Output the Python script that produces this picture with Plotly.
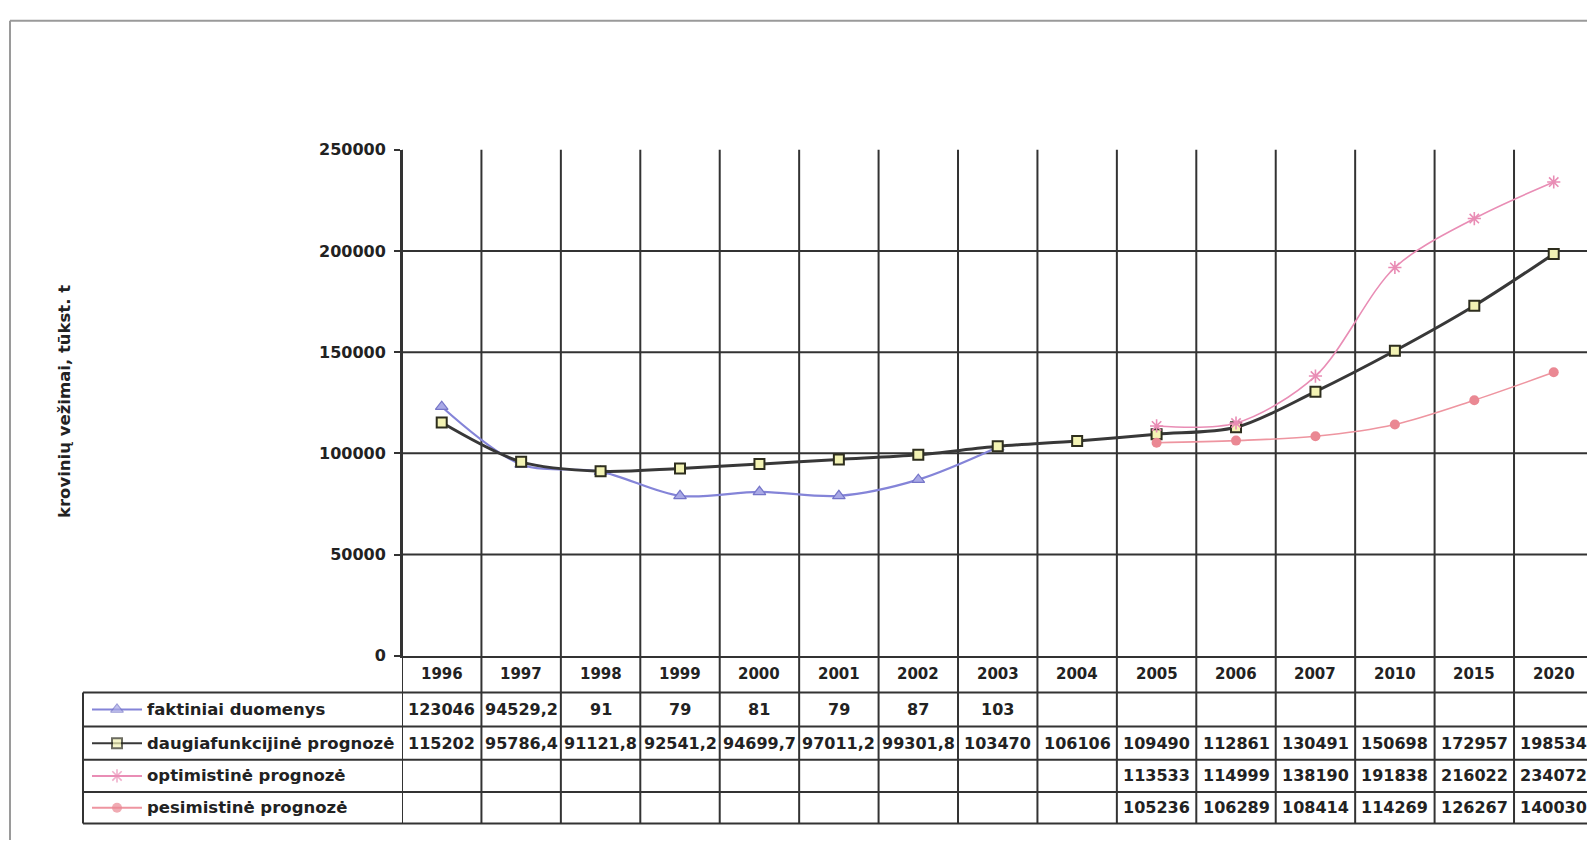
import plotly.graph_objects as go

# Categories (years) and series values, thousand tonnes
years = ["1996", "1997", "1998", "1999", "2000", "2001", "2002", "2003",
         "2004", "2005", "2006", "2007", "2010", "2015", "2020"]

fakt_values = [123046, 94529.2, 91000, 79000, 81000, 79000, 87000, 103000]
fakt_labels = ["123046", "94529,2", "91", "79", "81", "79", "87", "103"]

multi_values = [115202, 95786.4, 91121.8, 92541.2, 94699.7, 97011.2, 99301.8,
                103470, 106106, 109490, 112861, 130491, 150698, 172957, 198534]

forecast_years = ["2005", "2006", "2007", "2010", "2015", "2020"]
opt_values = [113533, 114999, 138190, 191838, 216022, 234072]
pes_values = [105236, 106289, 108414, 114269, 126267, 140030]

y_ticks = [0, 50000, 100000, 150000, 200000, 250000]

series_names = ["faktiniai duomenys", "daugiafunkcijinė prognozė",
                "optimistinė prognozė", "pesimistinė prognozė"]

# Page geometry (pixels)
W, H = 1587, 850
AXIS_LEFT = 402
PLOT_TOP = 144
AXIS_BOTTOM = 661.5
CAT_W = 79.43
TABLE_LEFT = 83
ROW_LINES = [699, 734, 768, 801, 833]
KEY_X0, KEY_X1, KEY_TEXT = 92, 142, 145

GRID = "#333333"
TEXT = "#222222"
FONT = "DejaVu Sans"

# Series styles: line, marker
styles = [
    dict(line=dict(color="#8484d8", width=2.2),
         marker=dict(symbol="triangle-up", size=11, color="#a9a9e6",
                     line=dict(color="#7575c8", width=1.2))),
    dict(line=dict(color="#383838", width=3),
         marker=dict(symbol="square", size=10, color="#f3f3b4",
                     line=dict(color="#2e2e1e", width=2))),
    dict(line=dict(color="#e98db5", width=1.6),
         marker=dict(symbol="asterisk-open", size=11,
                     line=dict(color="#de7fa8", width=1.6))),
    dict(line=dict(color="#ee95a0", width=1.6),
         marker=dict(symbol="circle", size=10, color="#ea8893",
                     line=dict(width=0))),
]


def px_x(x):
    return x / W


def px_y(y):
    return 1 - y / H


def fmt(v):
    s = f"{v:.1f}".rstrip("0").rstrip(".")
    return s.replace(".", ",")


series = [
    (years[:len(fakt_values)], fakt_values),
    (years, multi_values),
    (forecast_years, opt_values),
    (forecast_years, pes_values),
]

fig = go.Figure()

for (xs, ys), name, st in zip(series, series_names, styles):
    fig.add_trace(go.Scatter(
        x=xs, y=ys, name=name, mode="lines+markers", showlegend=False,
        line=dict(shape="spline", smoothing=0.9, **st["line"]),
        marker=st["marker"],
    ))

# Legend keys drawn inside the data table's label column (pixel overlay axes)
for r, (name, st) in enumerate(zip(series_names, styles)):
    yc = (ROW_LINES[r] + ROW_LINES[r + 1]) / 2
    mk = dict(st["marker"])
    mk["size"] = [0, st["marker"]["size"], 0]
    fig.add_trace(go.Scatter(
        x=[KEY_X0, (KEY_X0 + KEY_X1) / 2, KEY_X1], y=[yc, yc, yc],
        xaxis="x2", yaxis="y2", mode="lines+markers", showlegend=False,
        hoverinfo="skip", line=dict(color=st["line"]["color"], width=2),
        marker=mk,
    ))

shapes = []
line_style = dict(color=GRID, width=2)

# Column boundaries: through the plot and down through the data table
for i in range(len(years)):
    shapes.append(dict(type="line", xref="x", yref="paper",
                       x0=i - 0.5, x1=i - 0.5,
                       y0=px_y(PLOT_TOP), y1=px_y(ROW_LINES[-1]),
                       line=line_style, layer="below"))

# Horizontal value gridlines
for v in y_ticks[1:-1]:
    shapes.append(dict(type="line", xref="paper", yref="y",
                       x0=px_x(AXIS_LEFT), x1=1, y0=v, y1=v,
                       line=line_style, layer="below"))

# Data table rows
for yy in ROW_LINES:
    shapes.append(dict(type="line", xref="paper", yref="paper",
                       x0=px_x(TABLE_LEFT), x1=1,
                       y0=px_y(yy), y1=px_y(yy), line=line_style))
shapes.append(dict(type="line", xref="paper", yref="paper",
                   x0=px_x(TABLE_LEFT), x1=px_x(TABLE_LEFT),
                   y0=px_y(ROW_LINES[0]), y1=px_y(ROW_LINES[-1]),
                   line=line_style))

# Outer chart frame
frame = dict(color="#9a9a9a", width=2)
shapes.append(dict(type="line", xref="paper", yref="paper",
                   x0=px_x(10), x1=1, y0=px_y(12), y1=px_y(12), line=frame))
shapes.append(dict(type="line", xref="paper", yref="paper",
                   x0=px_x(10), x1=px_x(10), y0=px_y(12), y1=0, line=frame))

annotations = []

# Category labels in the table header
header_y = px_y((AXIS_BOTTOM + ROW_LINES[0]) / 2)
for i, yr in enumerate(years):
    annotations.append(dict(x=i, xref="x", y=header_y, yref="paper",
                            xanchor="center", yanchor="middle",
                            text=yr, showarrow=False,
                            font=dict(size=15, color=TEXT)))

# Table values
rows = [
    (years[:len(fakt_labels)], fakt_labels),
    (years, [fmt(v) for v in multi_values]),
    (forecast_years, [fmt(v) for v in opt_values]),
    (forecast_years, [fmt(v) for v in pes_values]),
]
for r, (xs, labels) in enumerate(rows):
    yc = px_y((ROW_LINES[r] + ROW_LINES[r + 1]) / 2)
    for x, t in zip(xs, labels):
        annotations.append(dict(x=years.index(x), xref="x", y=yc,
                                yref="paper", xanchor="center",
                                yanchor="middle", text=t, showarrow=False,
                                font=dict(size=16, color=TEXT)))

# Series names in the table's label column
for r, name in enumerate(series_names):
    yc = px_y((ROW_LINES[r] + ROW_LINES[r + 1]) / 2)
    annotations.append(dict(x=px_x(KEY_TEXT), y=yc, xref="paper",
                            yref="paper", xanchor="left", yanchor="middle",
                            text=name, showarrow=False,
                            font=dict(size=16.5, color=TEXT)))

# Value axis title
annotations.append(dict(x=px_x(64), y=px_y(402), xref="paper", yref="paper",
                        xanchor="center", yanchor="middle",
                        text="krovinių vežimai, tūkst. t", textangle=-90,
                        showarrow=False, font=dict(size=16.5, color=TEXT)))

fig.update_layout(
    width=W, height=H, autosize=False,
    margin=dict(l=0, r=0, t=0, b=0, pad=0),
    paper_bgcolor="white", plot_bgcolor="rgba(0,0,0,0)",
    font=dict(family=FONT, size=15, color=TEXT, weight="bold"),
    shapes=shapes, annotations=annotations,
    showlegend=False,
    xaxis=dict(domain=[px_x(AXIS_LEFT), 1], type="category",
               categoryorder="array", categoryarray=years,
               range=[-0.5, -0.5 + (W - AXIS_LEFT) / CAT_W],
               showgrid=False, zeroline=False, showticklabels=False,
               ticks="", showline=True, linecolor=GRID, linewidth=2),
    yaxis=dict(domain=[px_y(AXIS_BOTTOM), px_y(PLOT_TOP)],
               range=[0, 250000], tickvals=y_ticks, tickformat="d",
               showgrid=False, zeroline=False, ticks="outside", ticklen=6,
               tickwidth=2, tickcolor=GRID, showline=True, linecolor=GRID,
               linewidth=2, ticklabelstandoff=5,
               tickfont=dict(size=16, color=TEXT)),
    xaxis2=dict(domain=[0, 1], range=[0, W], visible=False,
                anchor="y2", fixedrange=True),
    yaxis2=dict(domain=[0, 1], range=[H, 0], visible=False,
                anchor="x2", fixedrange=True),
)

fig.write_html("out.html")
